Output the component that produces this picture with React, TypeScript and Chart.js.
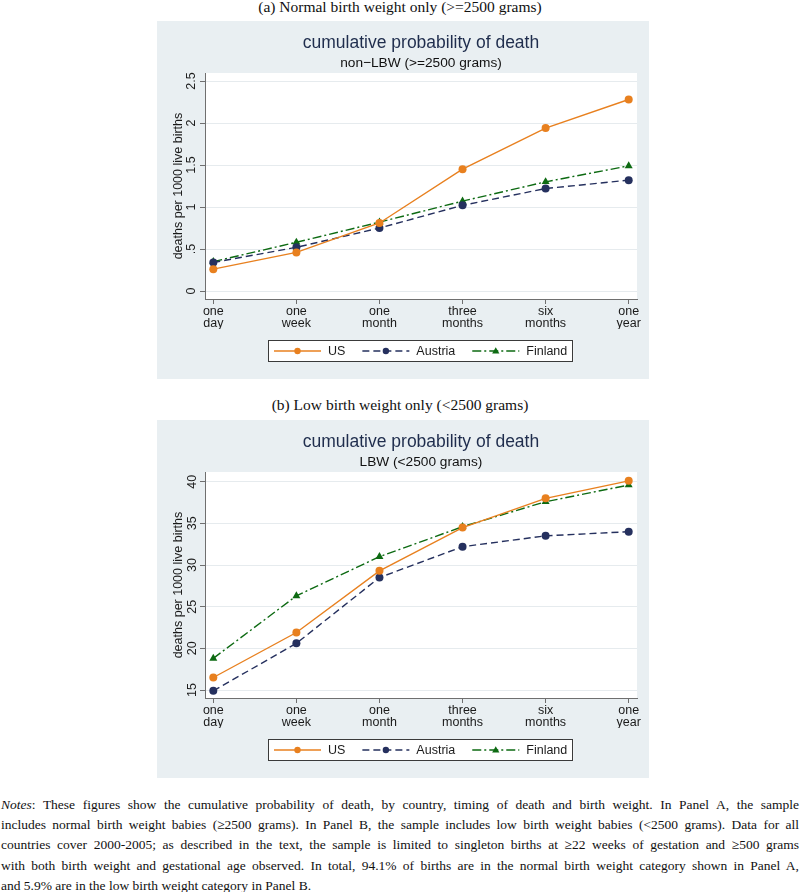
import React, { useEffect, useRef } from "react";
import { Chart, registerables } from "chart.js";

Chart.register(...registerables);
Chart.defaults.font.family = '"Liberation Sans", Arial, sans-serif';

// ---------- data ----------
const periods: string[][] = [
  ["one", "day"],
  ["one", "week"],
  ["one", "month"],
  ["three", "months"],
  ["six", "months"],
  ["one", "year"],
];
const seriesNames = ["US", "Austria", "Finland"];

const nlbwUS = [0.26, 0.46, 0.81, 1.45, 1.94, 2.28];
const nlbwAustria = [0.34, 0.52, 0.75, 1.02, 1.22, 1.32];
const nlbwFinland = [0.35, 0.58, 0.82, 1.07, 1.3, 1.49];
const nlbwYTicks = [0, 0.5, 1, 1.5, 2, 2.5];

const lbwUS = [16.5, 21.9, 29.3, 34.5, 38.0, 40.1];
const lbwAustria = [14.9, 20.6, 28.5, 32.2, 33.5, 34.0];
const lbwFinland = [18.8, 26.3, 31.0, 34.6, 37.6, 39.6];
const lbwYTicks = [15, 20, 25, 30, 35, 40];

const noteLines = [
  "These figures show the cumulative probability of death, by country, timing of death and birth weight.  In Panel A, the sample",
  "includes normal birth weight babies (≥2500 grams). In Panel B, the sample includes low birth weight babies (<2500 grams). Data for all",
  "countries cover 2000-2005; as described in the text, the sample is limited to singleton births at ≥22 weeks of gestation and ≥500 grams",
  "with both birth weight and gestational age observed. In total, 94.1% of births are in the normal birth weight category shown in Panel A,",
  "and 5.9% are in the low birth weight category in Panel B.",
];

// ---------- styles ----------
const COLORS = ["#e8801f", "#25305e", "#0d6a12"];
const DASHES: number[][] = [[], [7, 4], [9, 3, 2, 3]];
const MARKERS = ["circle", "circle", "triangle"];
const BG = "#e9eff2";

const bgPlugin = {
  id: "stataBg",
  beforeDraw(chart: any) {
    const { ctx, chartArea: ca, width, height } = chart;
    ctx.save();
    ctx.fillStyle = BG;
    ctx.fillRect(0, 0, width, height);
    ctx.fillStyle = "#ffffff";
    ctx.fillRect(ca.left, ca.top, ca.right - ca.left, ca.bottom - ca.top);
    ctx.restore();
  },
};

function drawMarker(ctx: CanvasRenderingContext2D, style: string, x: number, y: number, r: number, color: string) {
  ctx.fillStyle = color;
  ctx.beginPath();
  if (style === "triangle") {
    const h = r * 1.9;
    const w = r * 2.2;
    ctx.moveTo(x, y - h * 0.6);
    ctx.lineTo(x + w / 2, y + h * 0.4);
    ctx.lineTo(x - w / 2, y + h * 0.4);
    ctx.closePath();
  } else {
    ctx.arc(x, y, r, 0, Math.PI * 2);
  }
  ctx.fill();
}

const legendPlugin = {
  id: "stataLegend",
  afterDraw(chart: any) {
    const ctx: CanvasRenderingContext2D = chart.ctx;
    const ca = chart.chartArea;
    ctx.save();
    ctx.font = '12.5px "Liberation Sans", Arial, sans-serif';
    const sample = 47,
      gapText = 7,
      gapItem = 17,
      padL = 6,
      padR = 6,
      h = 22;
    const items = chart.data.datasets.map((ds: any) => ({ ds, w: ctx.measureText(ds.label).width }));
    const total =
      padL + items.reduce((s: number, it: any) => s + sample + gapText + it.w, 0) + gapItem * (items.length - 1) + padR;
    const cx = (ca.left + ca.right) / 2;
    const top = ca.bottom + 41;
    const x0 = Math.round(cx - total / 2);
    ctx.fillStyle = "#ffffff";
    ctx.fillRect(x0, top, total, h);
    ctx.strokeStyle = "#3a3a3a";
    ctx.lineWidth = 1;
    ctx.strokeRect(x0 + 0.5, top + 0.5, Math.round(total) - 1, h - 1);
    let x = x0 + padL;
    const y = top + h / 2;
    items.forEach((it: any) => {
      const ds = it.ds;
      ctx.strokeStyle = ds.borderColor;
      ctx.lineWidth = ds.borderWidth;
      ctx.setLineDash(ds.borderDash || []);
      ctx.beginPath();
      ctx.moveTo(x, y);
      ctx.lineTo(x + sample, y);
      ctx.stroke();
      ctx.setLineDash([]);
      drawMarker(ctx, ds.pointStyle, x + sample / 2, y, ds.pointStyle === "triangle" ? 3.3 : 3.2, ds.borderColor);
      ctx.fillStyle = "#1a1a1a";
      ctx.textBaseline = "middle";
      ctx.textAlign = "left";
      ctx.fillText(ds.label, x + sample + gapText, y + 0.5);
      x += sample + gapText + it.w + gapItem;
    });
    ctx.restore();
  },
};

function fmtTick(v: number): string {
  if (v > 0 && v < 1) return String(v).replace(/^0/, "");
  return String(v);
}

function PanelChart(props: {
  series: number[][];
  yTicks: number[];
  yMin: number;
  yMax: number;
  subtitle: string;
  tickPad: number;
}) {
  const ref = useRef<HTMLCanvasElement | null>(null);
  useEffect(() => {
    if (!ref.current) return;
    const datasets = props.series.map((vals, i) => ({
      label: seriesNames[i],
      data: vals.map((v, k) => ({ x: k, y: v })),
      borderColor: COLORS[i],
      backgroundColor: COLORS[i],
      pointBackgroundColor: COLORS[i],
      pointBorderColor: COLORS[i],
      borderWidth: 1.4,
      borderDash: DASHES[i],
      pointStyle: MARKERS[i],
      pointRadius: MARKERS[i] === "triangle" ? 4.6 : 4,
      pointBorderWidth: 0,
      tension: 0,
      fill: false,
    }));
    const chart = new Chart(ref.current, {
      type: "line",
      data: { datasets },
      options: {
        animation: false,
        responsive: false,
        maintainAspectRatio: false,
        events: [],
        layout: { padding: { left: 14, right: 12, top: 0, bottom: 50 } },
        plugins: {
          legend: { display: false },
          tooltip: { enabled: false },
          title: {
            display: true,
            fullSize: false,
            text: "cumulative probability of death",
            color: "#1f2d4d",
            font: { size: 17.5, weight: "normal", lineHeight: 1.2 },
            padding: { top: 11.5, bottom: 0 },
          },
          subtitle: {
            display: true,
            fullSize: false,
            text: props.subtitle,
            color: "#111111",
            font: { size: 13.7, weight: "normal", lineHeight: 1.2 },
            padding: { top: 1.3, bottom: 1.8 },
          },
        },
        scales: {
          x: {
            type: "linear",
            min: -0.1,
            max: 5.1,
            afterBuildTicks: (s: any) => {
              s.ticks = periods.map((_, i) => ({ value: i }));
            },
            afterFit: (s: any) => {
              s.height = 30;
            },
            grid: {
              display: true,
              drawOnChartArea: false,
              drawTicks: true,
              tickLength: 5,
              tickColor: "#6f6f6f",
              tickWidth: 1,
            },
            border: { display: true, color: "#6f6f6f", width: 1 },
            ticks: {
              autoSkip: false,
              maxRotation: 0,
              minRotation: 0,
              padding: 2,
              color: "#1a1a1a",
              font: { size: 12.5, lineHeight: 0.94 },
              callback: (v: any) => periods[Math.round(Number(v))] || "",
            },
          },
          y: {
            type: "linear",
            min: props.yMin,
            max: props.yMax,
            afterBuildTicks: (s: any) => {
              s.ticks = props.yTicks.map((v) => ({ value: v }));
            },
            afterFit: (s: any) => {
              s.width = 34;
            },
            grid: {
              display: true,
              drawOnChartArea: true,
              drawTicks: true,
              tickLength: 5,
              color: "#e6ebee",
              tickColor: "#6f6f6f",
              lineWidth: 1,
            },
            border: { display: true, color: "#6f6f6f", width: 1 },
            title: {
              display: true,
              text: "deaths per 1000 live births",
              color: "#1a1a1a",
              font: { size: 12.5, lineHeight: 1.2 },
              padding: { top: 0, bottom: 0 },
            },
            ticks: {
              autoSkip: false,
              minRotation: 90,
              maxRotation: 90,
              crossAlign: "center",
              padding: props.tickPad,
              color: "#1a1a1a",
              font: { size: 12.5 },
              callback: (v: any) => fmtTick(Number(v)),
            },
          },
        },
      },
      plugins: [bgPlugin, legendPlugin],
    } as any);
    return () => chart.destroy();
  }, []);
  return <canvas ref={ref} width={492} height={358} style={{ display: "block", width: 492, height: 358 }} />;
}

const serif = '"Liberation Serif", "Times New Roman", serif';

export default function App() {
  return (
    <div style={{ position: "absolute", left: 0, top: 0, width: 800, height: 892, background: "#ffffff", overflow: "hidden" }}>
      <div
        style={{
          position: "absolute",
          left: 0,
          top: -2,
          width: 800,
          textAlign: "center",
          fontFamily: serif,
          fontSize: 15.5,
          lineHeight: "18px",
          color: "#111",
        }}
      >
        (a) Normal birth weight only (&gt;=2500 grams)
      </div>
      <div style={{ position: "absolute", left: 157, top: 21 }}>
        <PanelChart
          series={[nlbwUS, nlbwAustria, nlbwFinland]}
          yTicks={nlbwYTicks}
          yMin={-0.095}
          yMax={2.595}
          subtitle="non−LBW (>=2500 grams)"
          tickPad={0}
        />
      </div>
      <div
        style={{
          position: "absolute",
          left: 0,
          top: 396,
          width: 800,
          textAlign: "center",
          fontFamily: serif,
          fontSize: 15.5,
          lineHeight: "18px",
          color: "#111",
        }}
      >
        (b) Low birth weight only (&lt;2500 grams)
      </div>
      <div style={{ position: "absolute", left: 157, top: 420 }}>
        <PanelChart
          series={[lbwUS, lbwAustria, lbwFinland]}
          yTicks={lbwYTicks}
          yMin={14.04}
          yMax={41.16}
          subtitle="LBW (<2500 grams)"
          tickPad={1}
        />
      </div>
      <div
        style={{
          position: "absolute",
          left: 1,
          top: 795,
          width: 798,
          fontFamily: serif,
          fontSize: 13.5,
          lineHeight: "20.2px",
          color: "#111",
        }}
      >
        {noteLines.map((line, i) => (
          <div
            key={i}
            style={{
              textAlign: i < noteLines.length - 1 ? "justify" : "left",
              textAlignLast: i < noteLines.length - 1 ? "justify" : "left",
              whiteSpace: "normal",
            } as any}
          >
            {i === 0 ? (
              <>
                <i>Notes</i>: {line}
              </>
            ) : (
              line
            )}
          </div>
        ))}
      </div>
    </div>
  );
}
